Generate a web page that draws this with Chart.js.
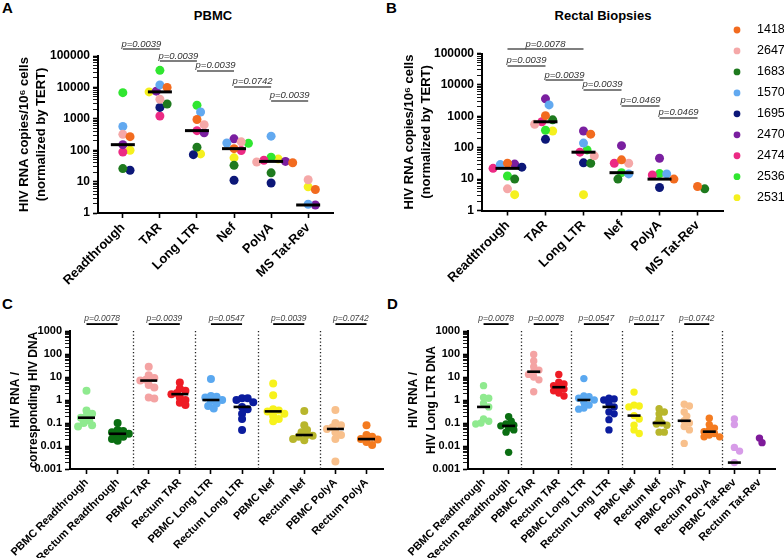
<!DOCTYPE html>
<html><head><meta charset="utf-8">
<script src="https://cdn.jsdelivr.net/npm/chart.js@4"></script>
<style>
body{margin:0;background:#fff;width:784px;height:558px;overflow:hidden;position:relative;font-family:'Liberation Sans',Arial,sans-serif;}
canvas{position:absolute;}
.lbl{position:absolute;font-weight:bold;color:#000;line-height:1;white-space:nowrap;}
</style></head><body>
<div class="lbl" style="left:2px;top:0px;font-size:15px">A</div>
<div class="lbl" style="left:386px;top:0px;font-size:15px">B</div>
<div class="lbl" style="left:2px;top:296px;font-size:15px">C</div>
<div class="lbl" style="left:387px;top:296px;font-size:15px">D</div>
<div class="lbl" style="left:153px;top:9px;width:120px;text-align:center;font-size:13px">PBMC</div>
<div class="lbl" style="left:523px;top:9px;width:160px;text-align:center;font-size:13px">Rectal Biopsies</div>
<canvas id="cA" width="392" height="290" style="left:0;top:0;width:392px;height:290px"></canvas>
<canvas id="cB" width="392" height="290" style="left:392px;top:0;width:392px;height:290px"></canvas>
<canvas id="cC" width="392" height="268" style="left:0;top:290px;width:392px;height:268px"></canvas>
<canvas id="cD" width="392" height="268" style="left:392px;top:290px;width:392px;height:268px"></canvas>
<script>
// ---------- DATA ----------
const patients = ['1418','2647','1683','1570','1695','2470','2474','2536','2531'];
const abCategories = ['Readthrough','TAR','Long LTR','Nef','PolyA','MS Tat-Rev'];
// values per category, in patient order above (0 = not detected)
const pbmcReadthrough = [270, 320, 26, 570, 23, 150, 88, 6800, 100];
const pbmcTAR         = [10000, 4200, 2950, 12000, 2300, 7600, 1230, 35000, 7200];
const pbmcLongLTR     = [950, 650, 125, 1650, 72, 360, 420, 2700, 76];
const pbmcNef         = [112, 185, 33, 170, 11, 230, 98, 165, 57];
const pbmcPolyA       = [40, 42, 19, 280, 9, 44, 48, 60, 52];
const pbmcMSTatRev    = [5.6, 11.5, 0, 1.9, 0, 1.8, 0, 0, 6.8];
const rectReadthrough = [32, 4.9, 10, 29, 24, 30, 22, 12.6, 3.2];
const rectTAR         = [1050, 560, 770, 2300, 185, 3600, 670, 360, 340];
const rectLongLTR     = [270, 55, 32, 140, 33, 340, 72, 85, 3.2];
const rectNef         = [41, 32, 10, 14.6, 0, 116, 32, 16, 0];
const rectPolyA       = [10, 0, 0, 14.6, 5.4, 46, 13.5, 15, 0];
const rectMSTatRev    = [5.8, 0, 4.9, 0, 0, 0, 0, 0, 0];

const pbmcPairs   = [[0,1],[1,2],[2,3],[3,4],[4,5]];
const pbmcPLabels = ['p=0.0039','p=0.0039','p=0.0039','p=0.0742','p=0.0039'];
const rectPairs   = [[0,2],[0,1],[1,2],[2,3],[3,4],[4,5]];
const rectPLabels = ['p=0.0078','p=0.0039','p=0.0039','p=0.0039','p=0.0469','p=0.0469'];

const cCategories = ['PBMC Readthrough','Rectum Readthrough','PBMC TAR','Rectum TAR','PBMC Long LTR','Rectum Long LTR','PBMC Nef','Rectum Nef','PBMC PolyA','Rectum PolyA'];
const cPbmcReadthrough = [2.5, 0.35, 0.25, 0.2, 0.17, 0.13, 0.1, 0.08, 0.07];
const cRectReadthrough = [0.1, 0.05, 0.045, 0.04, 0.034, 0.03, 0.025, 0.02, 0.017];
const cPbmcTAR         = [28, 12, 9, 7.5, 7, 4.5, 3.5, 1.3, 1.15];
const cRectTAR         = [5.8, 3.2, 2.5, 2.0, 1.8, 1.3, 1.0, 0.75, 0.6];
const cPbmcLongLTR     = [8.2, 1.5, 1.4, 1.3, 1.0, 0.9, 0.7, 0.55, 0.43];
const cRectLongLTR     = [1.2, 1.2, 1.0, 0.8, 0.5, 0.4, 0.25, 0.15, 0.05];
const cPbmcNef         = [5.2, 1.6, 0.4, 0.35, 0.32, 0.25, 0.2, 0.15, 0.12];
const cRectNef         = [0.33, 0.08, 0.05, 0.04, 0.03, 0.028, 0.025, 0.02, 0.018];
const cPbmcPolyA       = [0.37, 0.1, 0.08, 0.065, 0.055, 0.04, 0.03, 0.02, 0.0021];
const cRectPolyA       = [0.08, 0.03, 0.025, 0.02, 0.019, 0.015, 0.011];
const cPLabels = ['p=0.0078','p=0.0039','p=0.0547','p=0.0039','p=0.0742'];

const dCategories = ['PBMC Readthrough','Rectum Readthrough','PBMC TAR','Rectum TAR','PBMC Long LTR','Rectum Long LTR','PBMC Nef','Rectum Nef','PBMC PolyA','Rectum PolyA','PBMC Tat-Rev','Rectum Tat-Rev'];
const dPbmcReadthrough = [4.2, 1.3, 1.2, 0.7, 0.5, 0.15, 0.12, 0.1, 0.09];
const dRectReadthrough = [0.19, 0.12, 0.09, 0.08, 0.075, 0.06, 0.05, 0.04, 0.0053];
const dPbmcTAR         = [95, 50, 28, 20, 17, 13, 10, 7.5, 2.3];
const dRectTAR         = [13, 6, 5, 4.2, 3.6, 3, 2.5, 2, 1.5];
const dPbmcLongLTR     = [8.5, 1.5, 1.4, 1.2, 1.0, 0.8, 0.6, 0.45, 0.4];
const dRectLongLTR     = [1.2, 1.1, 1.0, 0.7, 0.5, 0.3, 0.25, 0.14, 0.05];
const dPbmcNef         = [2.2, 0.6, 0.55, 0.5, 0.21, 0.15, 0.08, 0.05, 0.035];
const dRectNef         = [0.42, 0.3, 0.25, 0.15, 0.1, 0.09, 0.08, 0.04, 0.04];
const dPbmcPolyA       = [0.65, 0.55, 0.3, 0.2, 0.125, 0.1, 0.07, 0.05, 0.013];
const dRectPolyA       = [0.16, 0.085, 0.06, 0.05, 0.042, 0.035, 0.03, 0.025, 0.025];
const dPbmcTatRev      = [0.15, 0.085, 0.0087, 0.006, 0.0019, 0, 0, 0, 0];
const dRectTatRev      = [0.022, 0.014, 0, 0, 0, 0, 0, 0, 0];
const dPLabels = ['p=0.0078','p=0.0078','p=0.0547','p=0.0117','p=0.0742'];

// ---------- STYLES ----------
const patientColors = ['#F26B1F','#F5A8A8','#1E7A1E','#62A9F0','#0C1778','#7A1FA0','#EC2A84','#30E630','#F5F01E'];
const groupColors = ['#8FEA8F','#0A6E12','#F4A3A3','#EE1C25','#5AA8F0','#0B1C9E','#F7F21C','#B8B62C','#F8C08C','#F47B20','#D79CE8','#7E1A9A'];
const FF = "'Liberation Sans', Arial, sans-serif";

// ---------- HELPERS ----------
function median(arr){ const s=[...arr].sort((a,b)=>a-b); const n=s.length; return n%2 ? s[(n-1)/2] : (s[n/2-1]+s[n/2])/2; }
function isMajor(v){ const l=Math.log10(v); return Math.abs(l-Math.round(l))<1e-6; }
function fmt(v){ return String(Number(v.toPrecision(1))); }
function logTicks(min,max){ const t=[]; const e0=Math.round(Math.log10(min)), e1=Math.round(Math.log10(max));
  for(let e=e0;e<=e1;e++){ for(let m=1;m<=9;m++){ const v=Number((m*Math.pow(10,e)).toPrecision(3)); if(v>max*1.0001) break; t.push(v);} } return t; }

const medianPlugin = { id:'medianLines', afterDatasetsDraw(chart,args,o){
  const {ctx,scales:{x,y}}=chart; ctx.save(); ctx.strokeStyle='#000'; ctx.lineWidth=o.lineWidth;
  o.groups.forEach((vals,i)=>{ const m=median(vals); if(!(m>0)) return;
    const cx=x.getPixelForValue(i), cy=y.getPixelForValue(m);
    ctx.beginPath(); ctx.moveTo(cx-o.width/2,cy); ctx.lineTo(cx+o.width/2,cy); ctx.stroke(); });
  ctx.restore(); } };

const bracketPlugin = { id:'pBrackets', afterDraw(chart,args,o){
  const {ctx,scales:{x,y}}=chart; ctx.save();
  o.pairs.forEach((p,i)=>{ const x1=x.getPixelForValue(p[0]), x2=x.getPixelForValue(p[1]), py=y.getPixelForValue(o.levels[i]);
    ctx.strokeStyle='#000'; ctx.lineWidth=o.lineWidth; ctx.beginPath(); ctx.moveTo(x1,py); ctx.lineTo(x2,py); ctx.stroke();
    ctx.fillStyle=o.color; ctx.font=o.font; ctx.textAlign='center'; ctx.textBaseline='alphabetic';
    ctx.fillText(o.labels[i],(x1+x2)/2,py-o.gap); });
  ctx.restore(); } };

const sepPlugin = { id:'separators', beforeDatasetsDraw(chart,args,o){
  const {ctx,chartArea,scales:{x}}=chart; ctx.save(); ctx.setLineDash([1.3,2.2]); ctx.strokeStyle='#222'; ctx.lineWidth=1.3;
  o.at.forEach(v=>{ const px=Math.round(x.getPixelForValue(v))+0.5; ctx.beginPath(); ctx.moveTo(px,chartArea.top); ctx.lineTo(px,chartArea.bottom); ctx.stroke(); });
  ctx.restore(); } };

const legendPlugin = { id:'sideLegend', afterDraw(chart,args,o){
  const {ctx}=chart; ctx.save(); ctx.font=o.font; ctx.textBaseline='middle'; ctx.textAlign='left';
  chart.data.datasets.forEach((ds,i)=>{ const yy=o.y+i*o.step;
    ctx.fillStyle=ds.backgroundColor; ctx.beginPath(); ctx.arc(o.x,yy,o.r,0,Math.PI*2); ctx.fill();
    ctx.fillStyle='#000'; ctx.fillText(ds.label,o.x+o.textGap,yy); });
  ctx.restore(); } };

function swarm(chart, r, distF, stepF){
  const xs=chart.scales.x, ys=chart.scales.y;
  const unit=xs.getPixelForValue(1)-xs.getPixelForValue(0);
  const groups={};
  chart.data.datasets.forEach(ds=>ds.data.forEach(p=>{ (groups[p.cat]=groups[p.cat]||[]).push({p,py:ys.getPixelForValue(p.y)}); }));
  Object.values(groups).forEach(g=>{
    g.sort((a,b)=>a.py-b.py);
    const placed=[]; const D=distF*r, step=stepF*r;
    g.forEach(pt=>{
      let off=0;
      for(let k=0;k<60;k++){
        const c=(k%2?1:-1)*Math.ceil(k/2)*step;
        if(placed.every(q=>{const dx=q.x-c, dy=q.y-pt.py; return dx*dx+dy*dy>=D*D;})){ off=c; break; }
      }
      placed.push({x:off,y:pt.py}); pt.p.x=pt.p.cat+off/unit; });
  });
  chart.update('none');
}

function makeChart(id, cfg){
  const cv=document.getElementById(id);
  const W=cv.width, H=cv.height;
  const yT=logTicks(cfg.yMin,cfg.yMax);
  const chart=new Chart(cv,{
    type:'scatter',
    data:{datasets:cfg.datasets},
    plugins:cfg.plugins,
    options:{
      responsive:false, maintainAspectRatio:false, devicePixelRatio:1, animation:false, events:[],
      layout:{padding:{left:0,top:cfg.area.top,right:W-cfg.area.right,bottom:0}},
      elements:{point:{radius:cfg.r,hoverRadius:cfg.r,borderWidth:0}},
      plugins:Object.assign({legend:{display:false},tooltip:{enabled:false}},cfg.pluginOpts),
      scales:{
        x:{type:'linear',min:cfg.xMin,max:cfg.xMax,
          afterBuildTicks:s=>{s.ticks=cfg.cats.map((c,i)=>({value:i}));},
          afterFit:s=>{s.height=H-cfg.area.bottom;},
          ticks:{autoSkip:false,minRotation:45,maxRotation:45,padding:cfg.xPad,color:'#000',
            font:{family:FF,size:cfg.xFont,weight:'bold'},callback:v=>cfg.cats[v]??''},
          grid:{drawOnChartArea:false,drawTicks:true,tickLength:5,color:'#000',tickColor:'#000',tickWidth:1.6},
          border:{display:true,color:'#000',width:2}},
        y:{type:'logarithmic',min:cfg.yMin,max:cfg.yMax,
          afterBuildTicks:s=>{s.ticks=yT.map(v=>({value:v,major:isMajor(v)}));},
          afterFit:s=>{s.width=cfg.area.left;},
          ticks:{autoSkip:false,padding:3,color:'#000',font:{family:FF,size:cfg.yFont,weight:'bold'},
            callback:v=>isMajor(v)?fmt(v):''},
          grid:{drawOnChartArea:false,drawTicks:true,tickLength:5,color:'#000',tickColor:'#000',
            tickWidth:c=>(c.tick&&isMajor(c.tick.value))?1.6:0.9},
          border:{display:true,color:'#000',width:2},
          title:{display:true,text:cfg.yTitle,color:'#000',
            font:{family:FF,size:cfg.titleFont,weight:'bold',lineHeight:cfg.titleLH},
            padding:{top:cfg.titlePad,bottom:0}}}
      }
    }
  });
  swarm(chart,cfg.r,cfg.swarmDist,cfg.swarmStep);
  return chart;
}

function patientDatasets(groups){
  return patients.map((p,pi)=>({label:p,backgroundColor:patientColors[pi],pointBackgroundColor:patientColors[pi],
    data:groups.map((vals,ci)=>({x:ci,y:vals[pi],cat:ci})).filter(d=>d.y>0)}));
}
function groupDatasets(cats,groups){
  return cats.map((c,ci)=>({label:c,backgroundColor:groupColors[ci],pointBackgroundColor:groupColors[ci],
    data:groups[ci].filter(v=>v>0).map(v=>({x:ci,y:v,cat:ci}))}));
}
function pairBoundaries(n){ const b=[]; for(let i=1;i<n-1;i+=2) b.push(i+0.5); return b; }
function adjacentPairs(n){ const p=[]; for(let i=0;i<n-1;i+=2) p.push([i,i+1]); return p; }

// ---------- PANEL A ----------
const pbmcGroups=[pbmcReadthrough,pbmcTAR,pbmcLongLTR,pbmcNef,pbmcPolyA,pbmcMSTatRev];
makeChart('cA',{
  datasets:patientDatasets(pbmcGroups), cats:abCategories, r:4.5, swarmDist:1.55, swarmStep:0.8,
  area:{left:98,top:56,right:333,bottom:213}, xMin:-0.67, xMax:5.67, yMin:1, yMax:100000,
  xFont:13, yFont:12, xPad:2, titleFont:13, titleLH:1.38, titlePad:15,
  yTitle:['HIV RNA copies/10\u2076 cells','(normalized by TERT)'],
  plugins:[medianPlugin,bracketPlugin],
  pluginOpts:{medianLines:{groups:pbmcGroups,width:24,lineWidth:3},
    pBrackets:{pairs:pbmcPairs,labels:pbmcPLabels,levels:[167000,69300,33300,10300,3690],lineWidth:1.2,gap:2.5,color:'#333',font:"italic 9.5px "+FF}}
});

// ---------- PANEL B ----------
const rectGroups=[rectReadthrough,rectTAR,rectLongLTR,rectNef,rectPolyA,rectMSTatRev];
makeChart('cB',{
  datasets:patientDatasets(rectGroups), cats:abCategories, r:4.5, swarmDist:1.55, swarmStep:0.8,
  area:{left:90,top:53.5,right:331,bottom:210.5}, xMin:-0.67, xMax:5.67, yMin:1, yMax:100000,
  xFont:13, yFont:12, xPad:2, titleFont:13, titleLH:1.38, titlePad:8,
  yTitle:['HIV RNA copies/10\u2076 cells','(normalized by TERT)'],
  plugins:[medianPlugin,bracketPlugin,legendPlugin],
  pluginOpts:{medianLines:{groups:rectGroups,width:24,lineWidth:3},
    pBrackets:{pairs:rectPairs,labels:rectPLabels,levels:[139000,40000,14300,6880,2130,883],lineWidth:1.2,gap:2.5,color:'#333',font:"italic 9.5px "+FF},
    sideLegend:{x:345,y:30,step:20.96,r:3.4,textGap:20,font:"12.5px "+FF}}
});

// ---------- PANEL C ----------
const cGroups=[cPbmcReadthrough,cRectReadthrough,cPbmcTAR,cRectTAR,cPbmcLongLTR,cRectLongLTR,cPbmcNef,cRectNef,cPbmcPolyA,cRectPolyA];
makeChart('cC',{
  datasets:groupDatasets(cCategories,cGroups), cats:cCategories, r:4, swarmDist:1.25, swarmStep:0.7,
  area:{left:70,top:41,right:383,bottom:179}, xMin:-0.53, xMax:9.53, yMin:0.001, yMax:1000,
  xFont:11, yFont:11, xPad:2, titleFont:12, titleLH:1.5, titlePad:7,
  yTitle:['HIV RNA /','corresponding HIV DNA'],
  plugins:[sepPlugin,medianPlugin,bracketPlugin],
  pluginOpts:{separators:{at:pairBoundaries(cCategories.length)},
    medianLines:{groups:cGroups,width:17,lineWidth:2.6},
    pBrackets:{pairs:adjacentPairs(cCategories.length),labels:cPLabels,levels:[2000,2000,2000,2000,2000],lineWidth:1.8,gap:3.5,color:'#444',font:"italic 8.5px "+FF}}
});

// ---------- PANEL D ----------
const dGroups=[dPbmcReadthrough,dRectReadthrough,dPbmcTAR,dRectTAR,dPbmcLongLTR,dRectLongLTR,dPbmcNef,dRectNef,dPbmcPolyA,dRectPolyA,dPbmcTatRev,dRectTatRev];
makeChart('cD',{
  datasets:groupDatasets(dCategories,dGroups), cats:dCategories, r:3.7, swarmDist:1.25, swarmStep:0.7,
  area:{left:76,top:41,right:383,bottom:179}, xMin:-0.62, xMax:11.62, yMin:0.001, yMax:1000,
  xFont:11, yFont:11, xPad:2, titleFont:12, titleLH:1.5, titlePad:13,
  yTitle:['HIV RNA /','HIV Long LTR DNA'],
  plugins:[sepPlugin,medianPlugin,bracketPlugin],
  pluginOpts:{separators:{at:pairBoundaries(dCategories.length)},
    medianLines:{groups:dGroups,width:13,lineWidth:2.6},
    pBrackets:{pairs:adjacentPairs(dCategories.length-2),labels:dPLabels,levels:[2000,2000,2000,2000,2000],lineWidth:1.8,gap:3.5,color:'#444',font:"italic 8.5px "+FF}}
});
</script>
</body></html>
